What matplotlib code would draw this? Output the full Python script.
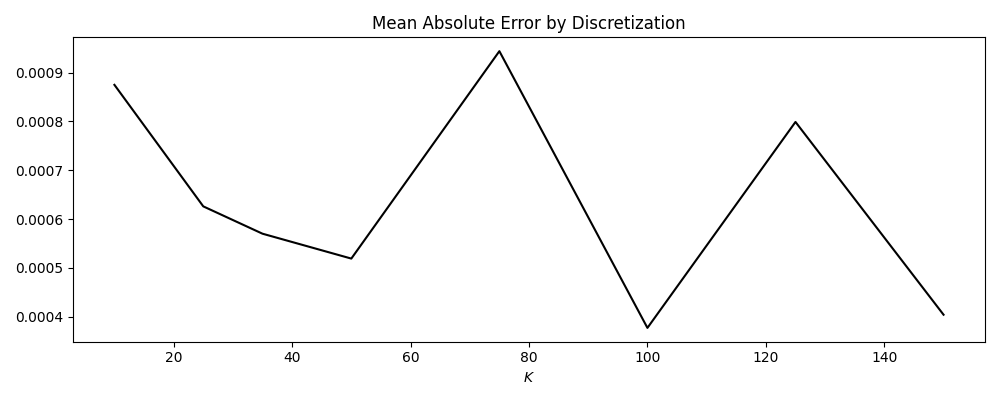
import matplotlib
matplotlib.use("Agg")
import matplotlib.pyplot as plt

k_values = [10, 25, 35, 50, 75, 100, 125, 150]
mae = [0.000875, 0.000626, 0.000570, 0.000519, 0.000944, 0.000377, 0.000799, 0.000404]

fig, ax = plt.subplots(figsize=(10, 4))
ax.plot(k_values, mae, color="black")
ax.set_title("Mean Absolute Error by Discretization")
ax.set_xlabel("$K$")
plt.tight_layout()
plt.savefig("out.png", dpi=100)
